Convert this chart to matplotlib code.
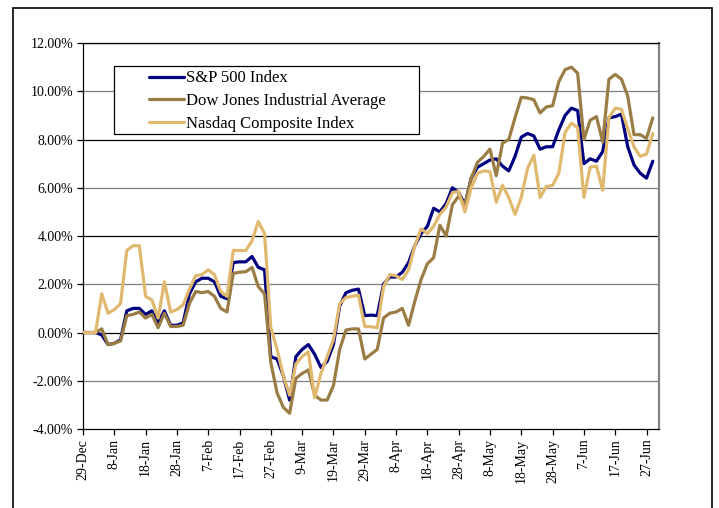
import matplotlib
matplotlib.use("Agg")
import matplotlib.pyplot as plt
import matplotlib.patches as patches
import pandas as pd

# Cumulative returns (%), sampled every 2 days from 29-Dec
dates = pd.date_range("2006-12-29", periods=92, freq="2D")

sp500 = [0.00, 0.00, 0.00, -0.10, -0.50, -0.45, -0.30, 0.90, 1.00, 1.00,
         0.75, 0.90, 0.40, 0.90, 0.30, 0.30, 0.40, 1.60, 2.10, 2.25,
         2.25, 2.10, 1.50, 1.40, 2.90, 2.93, 2.93, 3.15, 2.70, 2.60,
         -1.00, -1.10, -1.80, -2.80, -1.00, -0.70, -0.50, -0.90, -1.45, -1.20,
         -0.50, 1.10, 1.65, 1.75, 1.80, 0.70, 0.72, 0.70, 2.00, 2.30,
         2.30, 2.50, 2.90, 3.60, 4.10, 4.40, 5.15, 5.00, 5.35, 6.00,
         5.80, 5.30, 6.40, 6.85, 7.00, 7.15, 7.20, 6.90, 6.70, 7.30,
         8.10, 8.25, 8.15, 7.60, 7.70, 7.70, 8.40, 9.00, 9.30, 9.20,
         7.00, 7.20, 7.10, 7.50, 8.90, 8.95, 9.05, 7.70, 6.95, 6.60,
         6.40, 7.10]

dow = [0.00, 0.00, 0.00, 0.15, -0.50, -0.45, -0.35, 0.70, 0.75, 0.85,
       0.60, 0.75, 0.20, 0.80, 0.25, 0.25, 0.30, 1.20, 1.70, 1.65,
       1.70, 1.50, 1.00, 0.85, 2.45, 2.50, 2.52, 2.70, 1.90, 1.60,
       -1.25, -2.50, -3.10, -3.35, -1.90, -1.70, -1.55, -2.60, -2.80, -2.80,
       -2.20, -0.70, 0.10, 0.15, 0.15, -1.10, -0.90, -0.70, 0.60, 0.80,
       0.85, 1.00, 0.30, 1.30, 2.20, 2.85, 3.10, 4.45, 4.00, 5.30,
       5.65, 5.30, 6.40, 7.05, 7.30, 7.60, 6.50, 7.85, 8.00, 8.90,
       9.75, 9.72, 9.65, 9.10, 9.35, 9.40, 10.40, 10.90, 11.00, 10.75,
       8.00, 8.80, 8.95, 7.90, 10.50, 10.70, 10.50, 9.80, 8.20, 8.20,
       8.05, 8.90]

nasdaq = [0.00, 0.00, 0.00, 1.60, 0.80, 0.95, 1.20, 3.40, 3.60, 3.60,
          1.50, 1.35, 0.60, 2.10, 0.85, 0.95, 1.15, 1.80, 2.35, 2.40,
          2.60, 2.40, 1.70, 1.50, 3.40, 3.40, 3.40, 3.80, 4.60, 4.10,
          0.20, -0.70, -1.80, -2.60, -1.30, -1.00, -0.80, -2.70, -1.70, -1.00,
          -0.30, 1.20, 1.45, 1.50, 1.55, 0.25, 0.24, 0.20, 1.90, 2.40,
          2.35, 2.20, 2.60, 3.60, 4.30, 4.10, 4.40, 4.90, 5.20, 5.80,
          5.85, 5.00, 6.00, 6.60, 6.70, 6.67, 5.40, 6.10, 5.60, 4.90,
          5.60, 6.80, 7.35, 5.60, 6.05, 6.10, 6.60, 8.30, 8.68, 8.50,
          5.60, 6.85, 6.90, 5.90, 8.90, 9.30, 9.25, 8.45, 7.70, 7.30,
          7.40, 8.25]

series_names = ["S&P 500 Index", "Dow Jones Industrial Average", "Nasdaq Composite Index"]
colors = ["#000080", "#9A7D45", "#E0B96F"]

tick_dates = pd.date_range("2006-12-29", periods=19, freq="10D")
tick_labels = ["29-Dec", "8-Jan", "18-Jan", "28-Jan", "7-Feb", "17-Feb", "27-Feb",
               "9-Mar", "19-Mar", "29-Mar", "8-Apr", "18-Apr", "28-Apr", "8-May",
               "18-May", "28-May", "7-Jun", "17-Jun", "27-Jun"]
y_ticks = [-4, -2, 0, 2, 4, 6, 8, 10, 12]

plt.rcParams["font.family"] = ["Liberation Serif", "DejaVu Serif"]

fig = plt.figure(figsize=(7.19, 5.08), dpi=100)
ax = fig.add_axes([0.1154, 0.1555, 0.8012, 0.7598])

# outer frame around the whole chart
fig.patches.append(patches.Rectangle((13 / 719, -0.05), 699 / 719, 1.035,
                                     transform=fig.transFigure, fill=False,
                                     edgecolor="black", linewidth=1.2, clip_on=False))

# gridlines alternate black / grey like the original
for i, yv in enumerate(y_ticks[1:]):
    ax.axhline(yv, color="black" if i % 2 == 1 else "#808080", linewidth=0.9, zorder=1)

for vals, name, col in zip([sp500, dow, nasdaq], series_names, colors):
    ax.plot(dates, vals, color=col, linewidth=2.3, label=name, zorder=3,
            solid_joinstyle="round", solid_capstyle="round")

ax.set_xlim(pd.Timestamp("2006-12-29"), pd.Timestamp("2007-07-01"))
ax.set_ylim(-4, 12)
ax.set_yticks(y_ticks)
ax.set_yticklabels(["{:.2f}%".format(v) for v in y_ticks], fontsize=10)
ax.set_xticks(tick_dates)
ax.set_xticklabels(tick_labels, rotation=90, fontsize=10)
ax.tick_params(axis="both", direction="out", length=4, width=0.9, color="black", pad=3)

for s in ["left", "bottom", "top"]:
    ax.spines[s].set_color("black")
    ax.spines[s].set_linewidth(0.9)
ax.spines["right"].set_color("#808080")
ax.spines["right"].set_linewidth(1.6)

# legend box
ax.add_patch(patches.Rectangle((0.0538, 0.7642), 0.5295, 0.1762, transform=ax.transAxes,
                               facecolor="white", edgecolor="black", linewidth=0.9, zorder=5))
leg = ax.legend(loc="upper left", bbox_to_anchor=(0.1146, 0.929), frameon=False,
                fontsize=12, handlelength=2.1, handletextpad=0.15, labelspacing=0.4,
                borderpad=0, borderaxespad=0)
leg.set_zorder(6)

plt.savefig("out.png", dpi=100)
